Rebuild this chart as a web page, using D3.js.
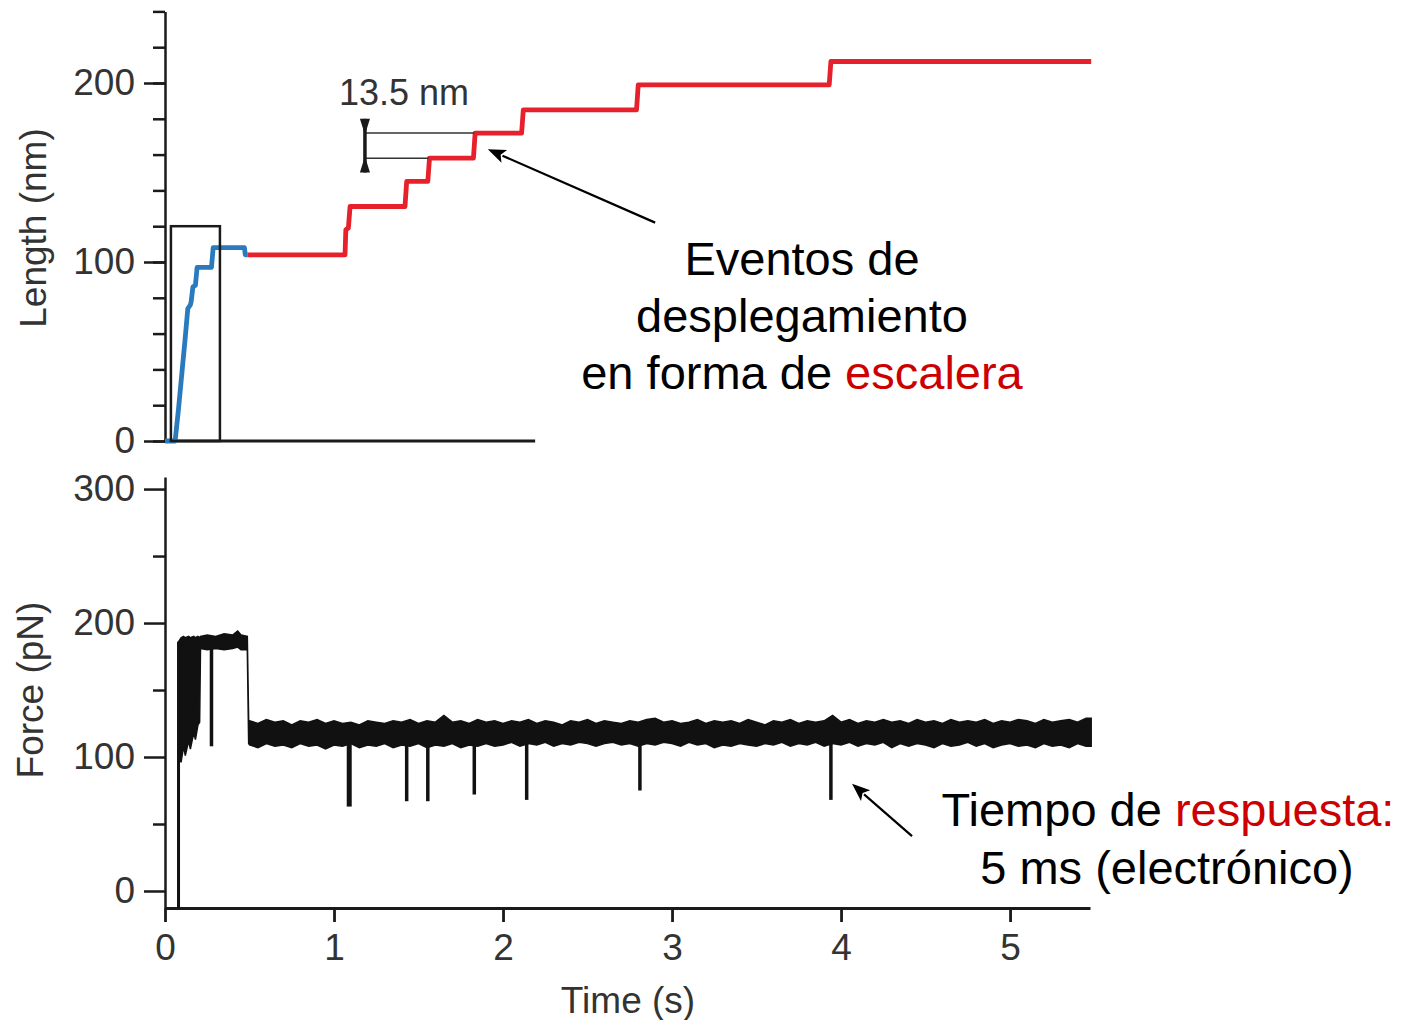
<!DOCTYPE html>
<html><head><meta charset="utf-8">
<script src="https://cdn.jsdelivr.net/npm/d3@7"></script>
<style>
body{margin:0;background:#fff;}
svg{display:block;font-family:"Liberation Sans",Arial,Helvetica,sans-serif;}
</style></head><body>
<svg id="chart" width="1414" height="1020"></svg>
<script>
// ---------- DATA ----------
// Length trace (nm) vs time (s)
const lengthBlueT = [0, 0.06, 0.08, 0.10, 0.12, 0.135, 0.15, 0.155, 0.165, 0.18, 0.19, 0.275, 0.285, 0.47, 0.475, 0.49];
const lengthBlueV = [0, 0, 18, 38, 58, 74, 76, 78, 86, 87, 97, 97, 108, 108, 104, 104];
const lengthRedT = [0.49, 1.065, 1.07, 1.085, 1.095, 1.42, 1.43, 1.555, 1.565, 1.825, 1.835, 2.11, 2.12, 2.79, 2.80, 3.93, 3.94, 5.48];
const lengthRedV = [104, 104, 118, 119, 131, 131, 145, 145, 158, 158, 172, 172, 185, 185, 199, 199, 212, 212];
// Force trace (pN): noise envelope (upper / lower edge)
const forceTime = [0.08,0.09,0.095,0.11,0.12,0.14,0.15,0.17,0.18,0.195,0.205,0.21,0.25,0.30,0.35,0.40,0.43,0.45,0.487,0.495,
  0.50,0.55,0.60,0.65,0.70,0.75,0.80,0.85,0.90,0.95,
  1.00,1.05,1.10,1.15,1.20,1.25,1.30,1.35,1.40,1.45,
  1.50,1.55,1.60,1.65,1.70,1.75,1.80,1.85,1.90,1.95,
  2.00,2.05,2.10,2.15,2.20,2.25,2.30,2.35,2.40,2.45,
  2.50,2.55,2.60,2.65,2.70,2.75,2.80,2.85,2.90,2.95,
  3.00,3.05,3.10,3.15,3.20,3.25,3.30,3.35,3.40,3.45,
  3.50,3.55,3.60,3.65,3.70,3.75,3.80,3.85,3.90,3.95,
  4.00,4.05,4.10,4.15,4.20,4.25,4.30,4.35,4.40,4.45,
  4.50,4.55,4.60,4.65,4.70,4.75,4.80,4.85,4.90,4.95,
  5.00,5.05,5.10,5.15,5.20,5.25,5.30,5.35,5.40,5.45,5.48];
const forceHigh = [186,188,189,190,189,190,189,190,189,190,189,190,191,190,192,191,194,191,190,127,
  127,125,128,126,127,124,127,126,128,125,
  127,125,126,124,127,126,125,127,126,128,
  125,127,126,131,126,127,125,128,126,127,
  125,127,126,128,125,127,126,124,127,126,
  128,125,127,126,125,127,126,128,129,126,
  127,125,126,128,125,127,126,127,125,128,
  126,124,127,126,128,125,127,126,127,131,
  126,128,125,127,126,128,126,127,125,128,
  126,127,125,128,126,127,126,128,125,127,
  126,128,127,125,128,126,127,128,126,129,129];
const forceLow = [93,100,96,108,101,112,106,118,113,124,126,181,180,181,180,181,182,180,180,110,
  109,107,110,108,109,107,110,108,109,106,
  109,108,110,107,109,108,110,107,109,108,
  110,107,109,108,110,107,109,108,110,108,
  109,111,108,110,109,111,108,110,109,111,
  110,108,110,111,109,110,108,110,109,111,
  110,108,111,109,110,107,109,108,110,109,
  108,110,109,111,108,110,109,111,108,110,
  109,111,108,110,109,111,107,110,108,110,
  109,107,110,108,109,111,108,110,107,109,
  110,108,109,107,110,108,109,107,110,108,108];
const forceLeadT = [0.08, 0.08];
const forceLeadV = [-12.7, 186];
// downward force spikes (unfolding events)
const spikeTime = [0.275, 1.09, 1.43, 1.555, 1.83, 2.14, 2.81, 3.94];
const spikeMin = [108, 63, 67, 67, 72, 68, 75, 68];
// ticks
const timeTicks = [0, 1, 2, 3, 4, 5];
const lengthTicks = [0, 100, 200];
const lengthMinor = [0,20,40,60,80,100,120,140,160,180,200,220,240];
const forceTicks = [0, 100, 200, 300];
const forceMinor = [50, 150, 250];
// annotations (data units)
const zoomBoxT = [0.035, 0.325], zoomBoxLen = [0, 120];
const scaleBarT = 1.183, scaleBarLevels = [158, 172], scaleBarEnds = [1.56, 1.83], scaleBarSpan = [150, 180];
const arrowLen = {from: [2.90, 122], to: [1.91, 163]};
const arrowForce = {from: [4.42, 41], to: [4.065, 80]};

// ---------- SCALES ----------
const svg = d3.select("#chart");
const x = d3.scaleLinear().domain([0, 5.473]).range([165, 1090]);
const yL = d3.scaleLinear().domain([0, 240]).range([441, 11.4]);
const yF = d3.scaleLinear().domain([-12.7, 309]).range([908, 477]);
const topXEnd = 2.19;

const ink = "#1a1a1a", labelCol = "#333";
function styleAxis(g, sw) {
  g.selectAll(".domain").attr("stroke", ink).attr("stroke-width", sw);
  g.selectAll(".tick line").attr("stroke", ink).attr("stroke-width", sw);
  g.selectAll(".tick text").attr("fill", labelCol).style("font-size", "37px")
    .style("font-family", '"Liberation Sans",Arial,sans-serif');
}

// ---------- TOP PANEL ----------
const gTop = svg.append("g");
gTop.append("g").attr("transform", "translate(165,0)")
  .call(d3.axisLeft(yL).tickValues(lengthMinor).tickSize(12).tickSizeOuter(0).tickFormat(""))
  .call(g => styleAxis(g, 2.5));
gTop.append("g").attr("transform", "translate(165,0)")
  .call(d3.axisLeft(yL).tickValues(lengthTicks).tickSize(21).tickSizeOuter(0).tickPadding(9).tickFormat(d3.format("d")))
  .call(g => { styleAxis(g, 2.5); g.select(".domain").remove(); });
gTop.append("line").attr("x1", x(0) - 1).attr("x2", x(topXEnd))
  .attr("y1", yL(0)).attr("y2", yL(0)).attr("stroke", ink).attr("stroke-width", 2.8);

const lineL = d3.line().x(d => x(d[0])).y(d => yL(d[1]));
gTop.append("path").datum(lengthRedT.map((t, i) => [t, lengthRedV[i]]))
  .attr("d", lineL).attr("fill", "none").attr("stroke", "#e6212b").attr("stroke-width", 4.8)
  .attr("stroke-linejoin", "round");
gTop.append("path").datum(lengthBlueT.map((t, i) => [t, lengthBlueV[i]]))
  .attr("d", lineL).attr("fill", "none").attr("stroke", "#2a7bbd").attr("stroke-width", 4.8)
  .attr("stroke-linejoin", "round");

gTop.append("rect").attr("x", x(zoomBoxT[0])).attr("y", yL(zoomBoxLen[1]))
  .attr("width", x(zoomBoxT[1]) - x(zoomBoxT[0])).attr("height", yL(zoomBoxLen[0]) - yL(zoomBoxLen[1]))
  .attr("fill", "none").attr("stroke", ink).attr("stroke-width", 2.5);

scaleBarLevels.forEach((lv, i) => {
  gTop.append("line").attr("x1", x(scaleBarT)).attr("x2", x(scaleBarEnds[i]))
    .attr("y1", yL(lv)).attr("y2", yL(lv)).attr("stroke", "#333").attr("stroke-width", 1.5);
});
const sbx = x(scaleBarT);
gTop.append("line").attr("x1", sbx).attr("x2", sbx).attr("y1", yL(scaleBarSpan[1])).attr("y2", yL(scaleBarSpan[0]))
  .attr("stroke", ink).attr("stroke-width", 3.5);
gTop.append("path").attr("d", `M${sbx-5},${yL(scaleBarSpan[1])} L${sbx+5},${yL(scaleBarSpan[1])} L${sbx},${yL(scaleBarLevels[1])+2} Z`).attr("fill", ink);
gTop.append("path").attr("d", `M${sbx-5},${yL(scaleBarSpan[0])} L${sbx+5},${yL(scaleBarSpan[0])} L${sbx},${yL(scaleBarLevels[0])-2} Z`).attr("fill", ink);
svg.append("text").attr("x", 404).attr("y", 105).attr("text-anchor", "middle")
  .style("font-size", "36px").attr("fill", labelCol).text("13.5 nm");

// ---------- BOTTOM PANEL ----------
const gBot = svg.append("g");
gBot.append("g").attr("transform", "translate(165,0)")
  .call(d3.axisLeft(yF).tickValues(forceMinor).tickSize(12).tickSizeOuter(0).tickFormat(""))
  .call(g => styleAxis(g, 2.5));
gBot.append("g").attr("transform", "translate(165,0)")
  .call(d3.axisLeft(yF).tickValues(forceTicks).tickSize(21).tickSizeOuter(0).tickPadding(9).tickFormat(d3.format("d")))
  .call(g => { styleAxis(g, 2.5); g.select(".domain").remove(); });
gBot.append("g").attr("transform", "translate(0,908)")
  .call(d3.axisBottom(x).tickValues(timeTicks).tickSize(14).tickSizeOuter(0).tickPadding(12).tickFormat(d3.format("d")))
  .call(g => styleAxis(g, 2.8));

const forceData = forceTime.map((t, i) => ({t, hi: forceHigh[i], lo: forceLow[i]}));
gBot.append("path").datum(forceData)
  .attr("d", d3.area().x(d => x(d.t)).y0(d => yF(d.lo)).y1(d => yF(d.hi)))
  .attr("fill", "#111").attr("stroke", "#111").attr("stroke-width", 1.5).attr("stroke-linejoin", "miter");
gBot.append("path").datum(forceLeadT.map((t, i) => [t, forceLeadV[i]]))
  .attr("d", d3.line().x(d => x(d[0])).y(d => yF(d[1])))
  .attr("stroke", "#111").attr("stroke-width", 3);
const bis = d3.bisector(d => d.t).left;
function lowAt(t) {
  const i = Math.max(1, bis(forceData, t));
  const a = forceData[i - 1], b = forceData[i];
  return a.lo + (b.lo - a.lo) * (t - a.t) / (b.t - a.t);
}
spikeTime.forEach((t, i) => {
  gBot.append("line").attr("x1", x(t)).attr("x2", x(t))
    .attr("y1", yF(lowAt(t) + 2)).attr("y2", yF(spikeMin[i]))
    .attr("stroke", "#111").attr("stroke-width", i === 1 ? 5 : 3.5);
});

// ---------- AXIS TITLES ----------
svg.append("text").attr("transform", "translate(46,228) rotate(-90)").attr("text-anchor", "middle")
  .style("font-size", "37px").attr("fill", labelCol).text("Length (nm)");
svg.append("text").attr("transform", "translate(43,690) rotate(-90)").attr("text-anchor", "middle")
  .style("font-size", "37px").attr("fill", labelCol).text("Force (pN)");
svg.append("text").attr("x", 628).attr("y", 1013).attr("text-anchor", "middle")
  .style("font-size", "37px").attr("fill", labelCol).text("Time (s)");

// ---------- ARROWS ----------
function arrow(x1, y1, x2, y2) {
  const dx = x2 - x1, dy = y2 - y1, L = Math.hypot(dx, dy), ux = dx / L, uy = dy / L;
  const hl = 18, hw = 7;
  const bx = x2 - ux * hl, by = y2 - uy * hl;
  svg.append("line").attr("x1", x1).attr("y1", y1).attr("x2", bx + ux * 2).attr("y2", by + uy * 2)
    .attr("stroke", "#000").attr("stroke-width", 2.2);
  svg.append("path").attr("d", `M${x2},${y2} L${bx - uy * hw},${by + ux * hw} L${bx + ux*4},${by + uy*4} L${bx + uy * hw},${by - ux * hw} Z`)
    .attr("fill", "#000");
}
arrow(x(arrowLen.from[0]), yL(arrowLen.from[1]), x(arrowLen.to[0]), yL(arrowLen.to[1]));
arrow(x(arrowForce.from[0]), yF(arrowForce.from[1]), x(arrowForce.to[0]), yF(arrowForce.to[1]));

// ---------- ANNOTATION TEXT ----------
const red = "#cc0000";
function annot(cx, y, parts) {
  const t = svg.append("text").attr("x", cx).attr("y", y).attr("text-anchor", "middle")
    .style("font-size", "47px").style("font-family", '"Liberation Sans",Arial,sans-serif');
  parts.forEach(p => t.append("tspan").attr("fill", p[1] || "#000").text(p[0]));
}
annot(802, 275, [["Eventos de"]]);
annot(802, 332, [["desplegamiento"]]);
annot(802, 389, [["en forma de "], ["escalera", red]]);
annot(1168, 826, [["Tiempo de "], ["respuesta:", red]]);
annot(1167, 884, [["5 ms (electrónico)"]]);
</script>
</body></html>
